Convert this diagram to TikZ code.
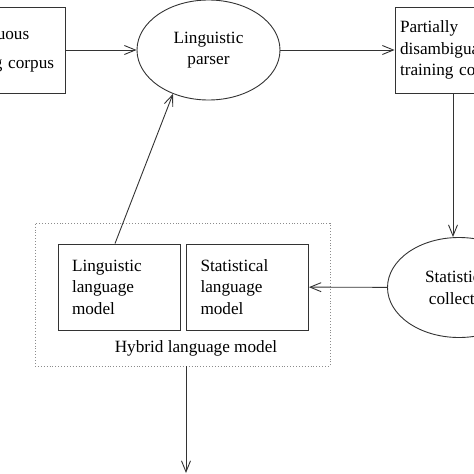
\documentclass[tikz,border=0pt]{standalone}
\usepackage{fontspec}
\setmainfont{Liberation Serif}
\usetikzlibrary{shapes.geometric}
\usetikzlibrary{arrows.meta}

\begin{document}
\begin{tikzpicture}
[x=1pt,y=-1pt,%
  lineDecorate/.style={-{Straight Barb[length=11pt,width=9pt]},line width=0.9pt,draw=black!80},%
  boxDecorate/.style={shape=rectangle,draw=black!80,line width=0.9pt,align=left,inner ysep=0pt,minimum height=86pt},%
  ellipseDecorate/.style={shape=ellipse,draw=black!80,line width=0.9pt,minimum width=143pt,minimum height=100pt,inner sep=0pt,align=center},%
  hybridDecorate/.style={shape=rectangle,draw=black!45,dotted,line width=0.9pt,minimum width=295pt,minimum height=143pt}]
\fontsize{17.2}{21.5}\selectfont
\path[use as bounding box,clip] (0,0) rectangle (474,474);
%% nodes
\node[boxDecorate,text width=108pt,inner xsep=8pt] (ambig) at (3,50) {Ambiguous\\[7.5pt]training corpus};
\node[ellipseDecorate] (parser) at (208.5,50) {Linguistic\\parser};
\node[boxDecorate,text width=106pt,inner xsep=5pt] (partial) at (453,50) {Partially\\disambiguated\\training corpus};
\node[ellipseDecorate] (collector) at (459,287.5) {Statistical\\collector};
%% hybrid language model
\node[boxDecorate,text width=94pt,inner xsep=14pt] (lingLM) at (119,287) {Linguistic\\language\\model};
\node[boxDecorate,text width=94pt,inner xsep=14pt] (statLM) at (247.5,287) {Statistical\\language\\model};
\node[anchor=base] (hybridLabel) at (196,352) {Hybrid language model};
\node[hybridDecorate] (hybrid) at (182.5,294.5) {};
\coordinate (result) at (186,473);
%% connect nodes
\path
(ambig) edge[lineDecorate] (parser)
(parser) edge[lineDecorate] (partial)
(partial.south) edge[lineDecorate] (partial.south |- collector.north)
(collector) edge[lineDecorate] (statLM)
([xshift=-4pt]lingLM.north) edge[lineDecorate] (parser.231)
(result |- hybrid.south) edge[lineDecorate] (result);
\end{tikzpicture}
\end{document}
